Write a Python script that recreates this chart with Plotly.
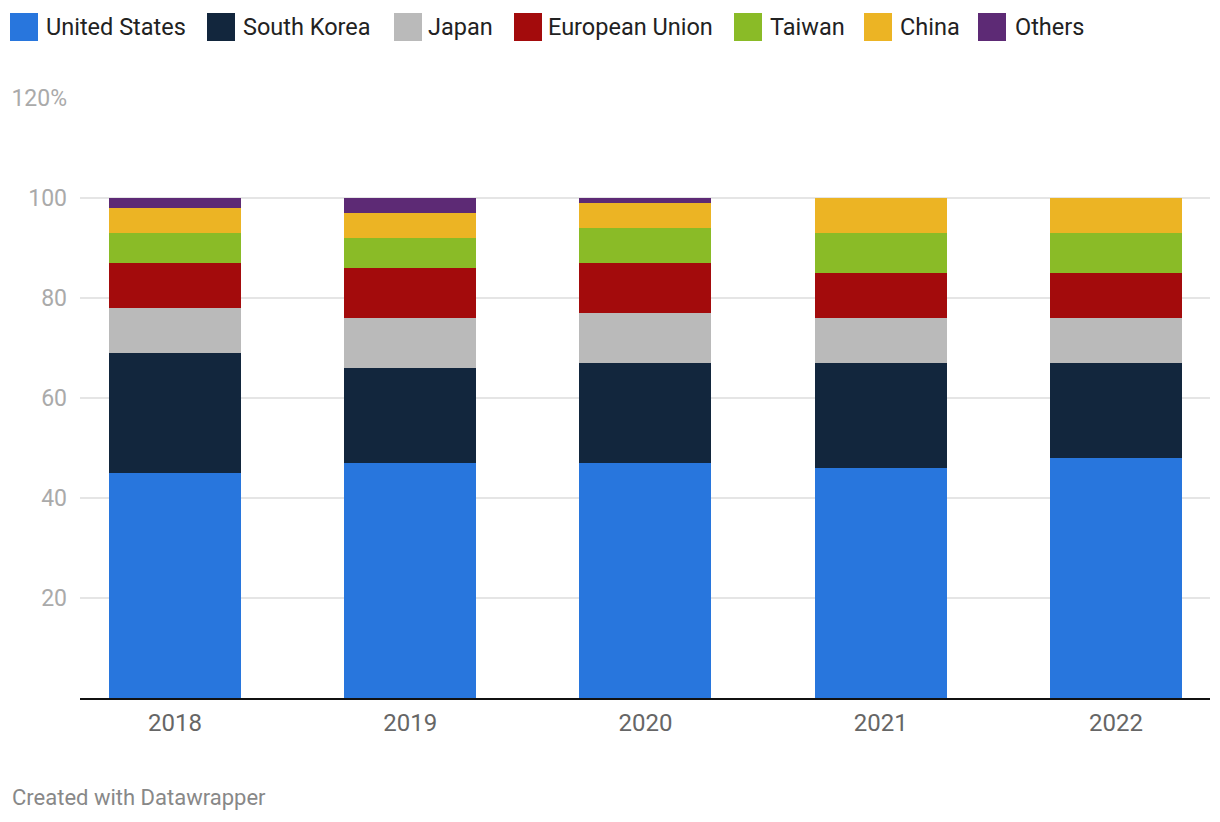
import plotly.graph_objects as go

years = ["2018", "2019", "2020", "2021", "2022"]
series_names = ["United States", "South Korea", "Japan", "European Union", "Taiwan", "China", "Others"]
united_states = [45, 47, 47, 46, 48]
south_korea = [24, 19, 20, 21, 19]
japan = [9, 10, 10, 9, 9]
european_union = [9, 10, 10, 9, 9]
taiwan = [6, 6, 7, 8, 8]
china = [5, 5, 5, 7, 7]
others = [2, 3, 1, 0, 0]
series_values = [united_states, south_korea, japan, european_union, taiwan, china, others]
colors = ["#2876dd", "#12263d", "#bababa", "#a30b0c", "#8abb27", "#ecb424", "#5d2a75"]
y_tickvals = [20, 40, 60, 80, 100, 120]
y_ticktext = ["20", "40", "60", "80", "100", "120%"]

# legend layout (page pixel positions of the swatches and labels)
legend_sq = [10, 207, 394, 514, 734, 864, 978]
legend_tx = [44, 241, 426, 546, 768, 898, 1013]

OFF = 8  # page body margin
W, H = 1220 - OFF, 822 - OFF
PL, PR, PT, PB = 80, 1210, 98, 698  # plot area in page pixels
L, R, T, B = PL - OFF, W - (PR - OFF), PT - OFF, H - (PB - OFF)
pw, ph = W - L - R, H - T - B

fig = go.Figure()
for name, vals, col in zip(series_names, series_values, colors):
    fig.add_trace(go.Bar(x=years, y=vals, name=name, marker=dict(color=col, line=dict(width=0)),
                         width=0.561, showlegend=False))

def px_x(p):
    return (p - PL) / pw

def px_y(p):
    return (PB - p) / ph

for name, col, x0, xt in zip(series_names, colors, legend_sq, legend_tx):
    fig.add_shape(type="rect", xref="paper", yref="paper",
                  x0=px_x(x0), x1=px_x(x0 + 28), y0=px_y(41), y1=px_y(13),
                  fillcolor=col, line=dict(width=0))
    fig.add_annotation(xref="paper", yref="paper", x=px_x(xt), y=px_y(27),
                       text=name, showarrow=False, xanchor="left", yanchor="middle",
                       font=dict(family="Roboto", size=23.5, color="#222222"))

fig.add_annotation(xref="paper", yref="paper", x=px_x(10), y=px_y(797),
                   text="Created with Datawrapper", showarrow=False, xanchor="left", yanchor="middle",
                   font=dict(family="Roboto", size=22, color="#888888"))

fig.update_layout(
    barmode="stack",
    width=W, height=H,
    margin=dict(l=L, r=R, t=T, b=B, autoexpand=False),
    plot_bgcolor="white", paper_bgcolor="white",
    font=dict(family="Roboto"),
    xaxis=dict(type="category", range=[-0.404, 4.4], showgrid=False,
               showline=True, linecolor="#111111", linewidth=2,
               ticks="", tickfont=dict(size=24, color="#666666"), ticklabelstandoff=2),
    yaxis=dict(range=[0, 120], tickvals=y_tickvals, ticktext=y_ticktext,
               showgrid=True, gridcolor="#e5e5e5", gridwidth=2, zeroline=False,
               tickfont=dict(size=23, color="#aaaaaa"), ticklabelstandoff=12),
    bargap=0,
)

fig.write_html("out.html")
